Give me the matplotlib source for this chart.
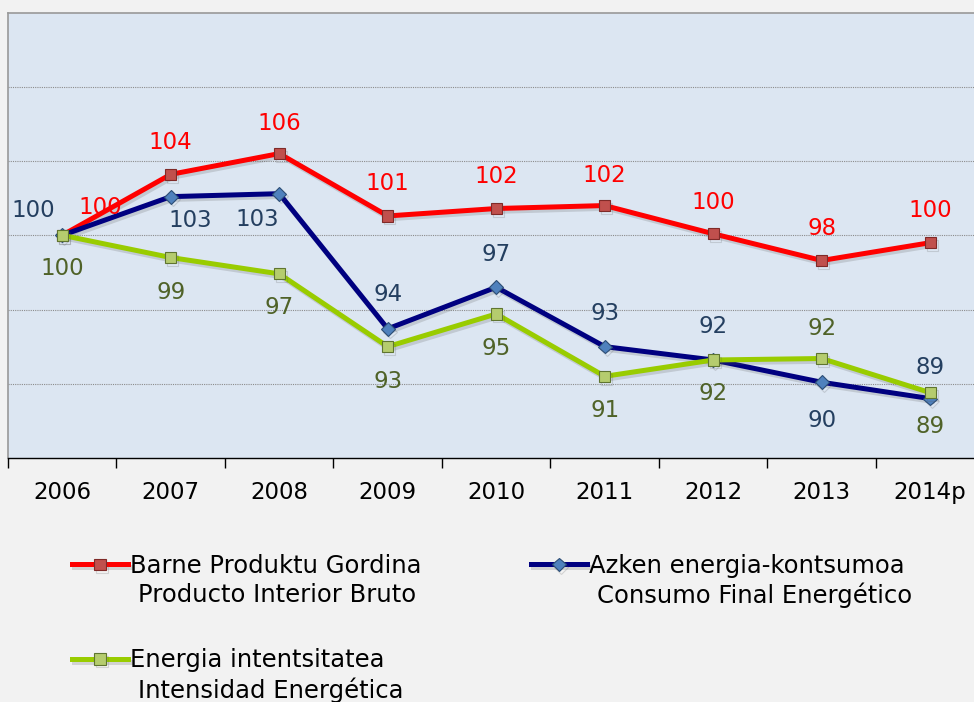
import matplotlib
matplotlib.use("Agg")
import matplotlib.pyplot as plt
import matplotlib.patheffects as pe
import numpy as np

# datos del gráfico (índice 2006 = 100)
years = ['2006', '2007', '2008', '2009', '2010', '2011', '2012', '2013', '2014p']
pib = [100.0, 104.1, 105.5, 101.3, 101.8, 102.0, 100.1, 98.3, 99.5]
consumo = [100.0, 102.6, 102.8, 93.7, 96.5, 92.5, 91.6, 90.1, 89.0]
intensidad = [100.0, 98.5, 97.4, 92.5, 94.7, 90.5, 91.6, 91.7, 89.4]

pib_labels = [100, 104, 106, 101, 102, 102, 100, 98, 100]
consumo_labels = [100, 103, 103, 94, 97, 93, 92, 90, 89]
intensidad_labels = [100, 99, 97, 93, 95, 91, 92, 92, 89]

legend_labels = [
    'Barne Produktu Gordina\nProducto Interior Bruto',
    'Azken energia-kontsumoa\nConsumo Final Energético',
    'Energia intentsitatea\nIntensidad Energética',
]

# desplazamientos de las etiquetas (pixeles)
off_pib = [(38, 28), (0, 32), (0, 30), (0, 32), (0, 32), (0, 30), (0, 31), (0, 32), (0, 32)]
off_consumo = [(-29, 25), (20, -24), (-22, -26), (0, 34), (0, 33), (0, 33), (0, 33), (0, -38), (0, 31)]
off_intensidad = [(0, -33), (0, -35), (0, -34), (0, -35), (0, -35), (0, -34), (0, -34), (0, 30), (0, -34)]

plt.rcParams['font.family'] = ['DejaVu Sans']

fig = plt.figure(figsize=(9.74, 7.02), dpi=100)
fig.patch.set_facecolor('#f2f2f2')
ax = fig.add_axes([8 / 974, (702 - 458) / 702, 976.5 / 974, 445.5 / 702])
ax.set_facecolor('#dce6f2')

x = np.arange(len(years))
sombra = [pe.SimpleLineShadow(offset=(1.5, -2), alpha=0.2, shadow_color='#555555'), pe.Normal()]

series = [
    (pib, pib_labels, off_pib, '#ff0000', 's', '#c0504d', '#7f2a28', '#ff0000', 8),
    (consumo, consumo_labels, off_consumo, '#000080', 'D', '#4f81bd', '#2c4d75', '#243f60', 7),
    (intensidad, intensidad_labels, off_intensidad, '#99cc00', 's', '#b5cc6e', '#5f7530', '#4f6228', 8),
]

lines = []
for vals, labs, offs, col, mk, mfc, mec, tcol, ms in series:
    ln, = ax.plot(x, vals, color=col, lw=3.6, marker=mk, markersize=ms,
                  markerfacecolor=mfc, markeredgecolor=mec, markeredgewidth=0.8,
                  solid_joinstyle='round', path_effects=sombra, zorder=3)
    lines.append(ln)
    for xi, v, lab, (dx, dy) in zip(x, vals, labs, offs):
        ax.annotate(str(lab), (xi, v), xytext=(dx, dy), textcoords='offset pixels',
                    ha='center', va='center', color=tcol, fontsize=16.5, zorder=4)

ax.set_xlim(-0.5, len(years) - 0.5)
ax.set_ylim(85, 115)

ax.set_yticks([90, 95, 100, 105, 110])
ax.yaxis.grid(True, color='#8c8c8c', linestyle=(0, (1, 1)), lw=0.8)
ax.tick_params(axis='y', length=0, labelleft=False)

ax.set_xticks(x)
ax.set_xticklabels(years, fontsize=16.5)
ax.set_xticks(np.arange(-0.5, len(years), 1), minor=True)
ax.tick_params(axis='x', which='major', length=0, pad=16.5)
ax.tick_params(axis='x', which='minor', length=7, width=1, color='black', direction='out')

for s in ['left', 'top', 'right']:
    ax.spines[s].set_color('#999999')
    ax.spines[s].set_linewidth(1.2)
ax.spines['bottom'].set_color('black')
ax.spines['bottom'].set_linewidth(1)

# leyenda: primera línea en la leyenda, segunda línea colgada debajo
orden = [0, 2, 1]
primeras = [legend_labels[i].split('\n')[0] for i in orden]
segundas = [legend_labels[i].split('\n')[1] for i in orden]
leg = fig.legend([lines[i] for i in orden], primeras, ncol=2, loc='upper left',
                 bbox_to_anchor=(72 / 974, 1 - 554 / 702), frameon=False,
                 fontsize=17.5, handlelength=2.3, handletextpad=0.08,
                 columnspacing=4.5, labelspacing=2.9, numpoints=1,
                 borderpad=0, borderaxespad=0)
for t, seg in zip(leg.get_texts(), segundas):
    fig.add_artist(plt.Annotation(seg, xy=(0, 0), xycoords=t, xytext=(8, -5),
                                  textcoords='offset pixels', ha='left', va='top',
                                  fontsize=17.5, zorder=10))

fig.savefig('out.png', dpi=100, facecolor=fig.get_facecolor())
